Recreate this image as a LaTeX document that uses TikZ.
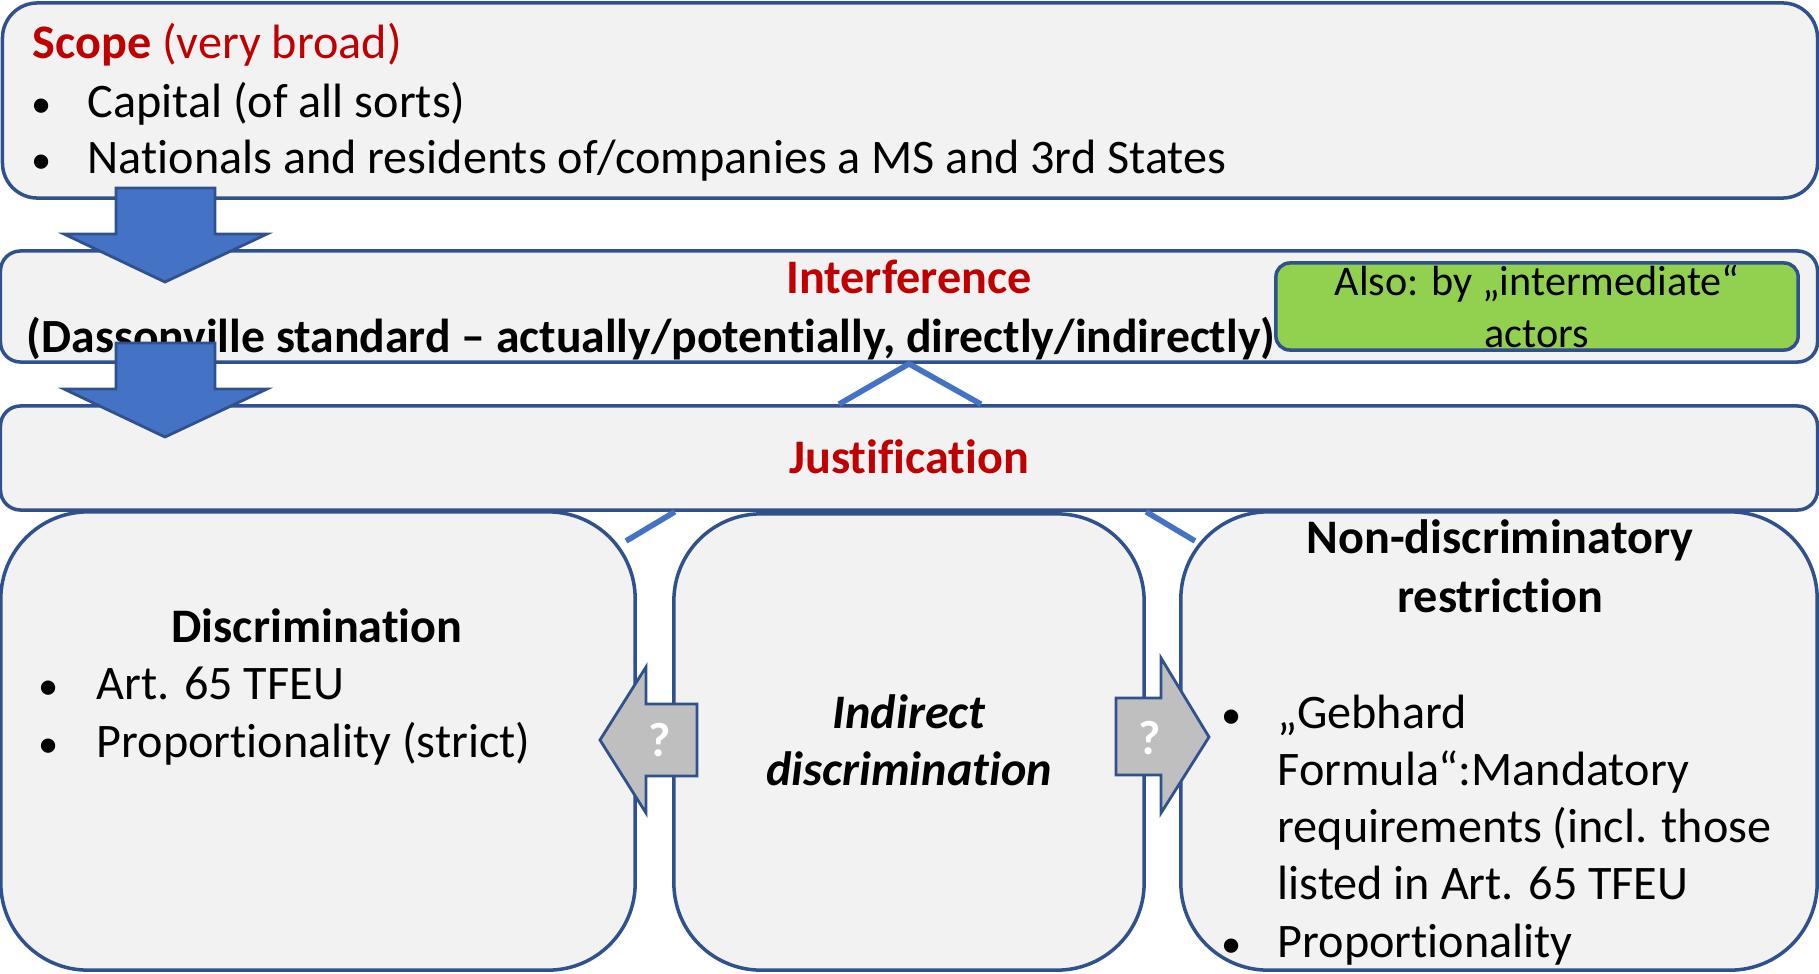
\documentclass[tikz,border=0pt]{standalone}
\usepackage{fontspec}
\setmainfont{Carlito}[Ligatures=NoCommon]
\usetikzlibrary{positioning}

\definecolor{boxfill}{HTML}{F2F2F2}
\definecolor{boxline}{HTML}{2F528F}
\definecolor{accent}{HTML}{4472C4}
\definecolor{redtext}{HTML}{C00000}
\definecolor{greenfill}{HTML}{92D050}
\definecolor{greyarr}{HTML}{BFBFBF}

\begin{document}
\begin{tikzpicture}[
    x=0.01cm, y=-0.01cm,
    every node/.style={
      font=\fontsize{13.7}{16.5}\selectfont,
      inner sep=0pt
    },
    panel/.style={draw=boxline, fill=boxfill, line width=1pt, rounded corners=#1},
    txt/.style={anchor=base west},
    ctxt/.style={anchor=base, align=center},
    bul/.style={anchor=base, font=\fontsize{11.5}{16.5}\selectfont},
    link/.style={draw=accent, line width=1.6pt},
    downarr/.style={draw=boxline, fill=accent, line width=0.8pt},
    sidearr/.style={draw=boxline, fill=greyarr, line width=0.8pt}
    ]
    \useasboundingbox (0,0) rectangle (1819,973);

    % boxes
    \node[panel=0.35cm, minimum width=18.14cm, minimum height=1.95cm] (scope) at (910,100.5) {};
    \node[panel=0.2cm, minimum width=18.16cm, minimum height=1.11cm] (interf) at (909,306.5) {};
    \node[panel=0.2cm, minimum width=18.16cm, minimum height=1.04cm] (just) at (909,458) {};

    % connectors
    \coordinate (dl) at (626,541);
    \coordinate (nr) at (1195,541);
    \draw[link] ([xshift=-0.7cm]just.north) -- (interf.south) -- ([xshift=0.72cm]just.north);
    \draw[link] ([xshift=-2.34cm]just.south) -- (dl);
    \draw[link] ([xshift=2.37cm]just.south) -- (nr);

    \node[panel=0.87cm, minimum width=6.34cm, minimum height=4.58cm] (disc) at (318,741) {};
    \node[panel=0.87cm, minimum width=4.70cm, minimum height=4.56cm] (indir) at (909,742) {};
    \node[panel=0.87cm, minimum width=6.36cm, minimum height=4.58cm] (nondisc) at (1499,741) {};

    % scope
    \node[txt, text=redtext] (scopet) at (32,59) {\textbf{Scope} (very broad)};
    \node[bul] (capb) at (42,117) {•};
    \node[txt] (cap) at (87,117) {Capital (of all sorts)};
    \node[bul] (natb) at (42,173) {•};
    \node[txt] (nat) at (87,173) {Nationals and residents of/companies a MS and 3rd States};

    % interference and justification
    \node[ctxt, text=redtext, font=\fontsize{13.7}{16.5}\selectfont\bfseries] (interft) at (909,293) {Interference};
    \node[txt, font=\fontsize{13.55}{16.5}\selectfont\bfseries] (dass) at (26,352)
      {(Dassonville standard – actually/potentially, directly/indirectly)};
    \node[panel=0.14cm, fill=greenfill, minimum width=5.22cm, minimum height=0.87cm] (also) at (1537,306.5) {};
    \node[ctxt, font=\fontsize{12}{14.8}\selectfont] (alsot) at (1537,295) {Also: by „intermediate“};
    \node[ctxt, font=\fontsize{12}{14.8}\selectfont] (actors) at (1537,347) {actors};
    \node[ctxt, text=redtext, font=\fontsize{13.7}{16.5}\selectfont\bfseries] (justt) at (909,473) {Justification};

    % discrimination
    \node[ctxt, font=\fontsize{13.7}{16.5}\selectfont\bfseries] (disct) at (317,642) {Discrimination};
    \node[bul] (artb) at (49,699) {•};
    \node[txt] (art) at (96,699) {Art. 65 TFEU};
    \node[bul] (propb) at (49,757) {•};
    \node[txt] (prop) at (96,757) {Proportionality (strict)};

    % indirect discrimination
    \node[ctxt, font=\fontsize{13.7}{16.5}\selectfont\bfseries\itshape] (indt1) at (909,728) {Indirect};
    \node[ctxt, font=\fontsize{13.7}{16.5}\selectfont\bfseries\itshape] (indt2) at (909,785) {discrimination};

    % non-discriminatory restriction
    \node[ctxt, font=\fontsize{13.7}{16.5}\selectfont\bfseries] (ndt1) at (1500,553) {Non-discriminatory};
    \node[ctxt, font=\fontsize{13.7}{16.5}\selectfont\bfseries] (ndt2) at (1500,612) {restriction};
    \node[bul] (gebb) at (1232,728) {•};
    \node[txt] (geb1) at (1277,728) {„Gebhard};
    \node[txt] (geb2) at (1277,785) {Formula“:Mandatory};
    \node[txt] (geb3) at (1277,842) {requirements (incl. those};
    \node[txt] (geb4) at (1277,899) {listed in Art. 65 TFEU};
    \node[bul] (ndpb) at (1232,957) {•};
    \node[txt] (ndp) at (1277,957) {Proportionality};

    % block arrows
    \foreach \y in {188,343}{
      \draw[downarr] (116,\y) -- (215,\y) -- (215,\y+46) -- (267,\y+46)
        -- (165,\y+94) -- (64,\y+46) -- (116,\y+46) -- cycle;
    }
    \draw[sidearr] (697,704) -- (646,704) -- (646,667) -- (600,740)
      -- (646,813) -- (646,776) -- (697,776) -- cycle;
    \draw[sidearr] (1116,698) -- (1161,698) -- (1161,658) -- (1209,737)
      -- (1161,813) -- (1161,775) -- (1116,775) -- cycle;
    \node[text=white, font=\fontsize{13.7}{16.5}\selectfont\bfseries] (qleft) at (660,740) {?};
    \node[text=white, font=\fontsize{13.7}{16.5}\selectfont\bfseries] (qright) at (1150,738) {?};
  \end{tikzpicture}
\end{document}
